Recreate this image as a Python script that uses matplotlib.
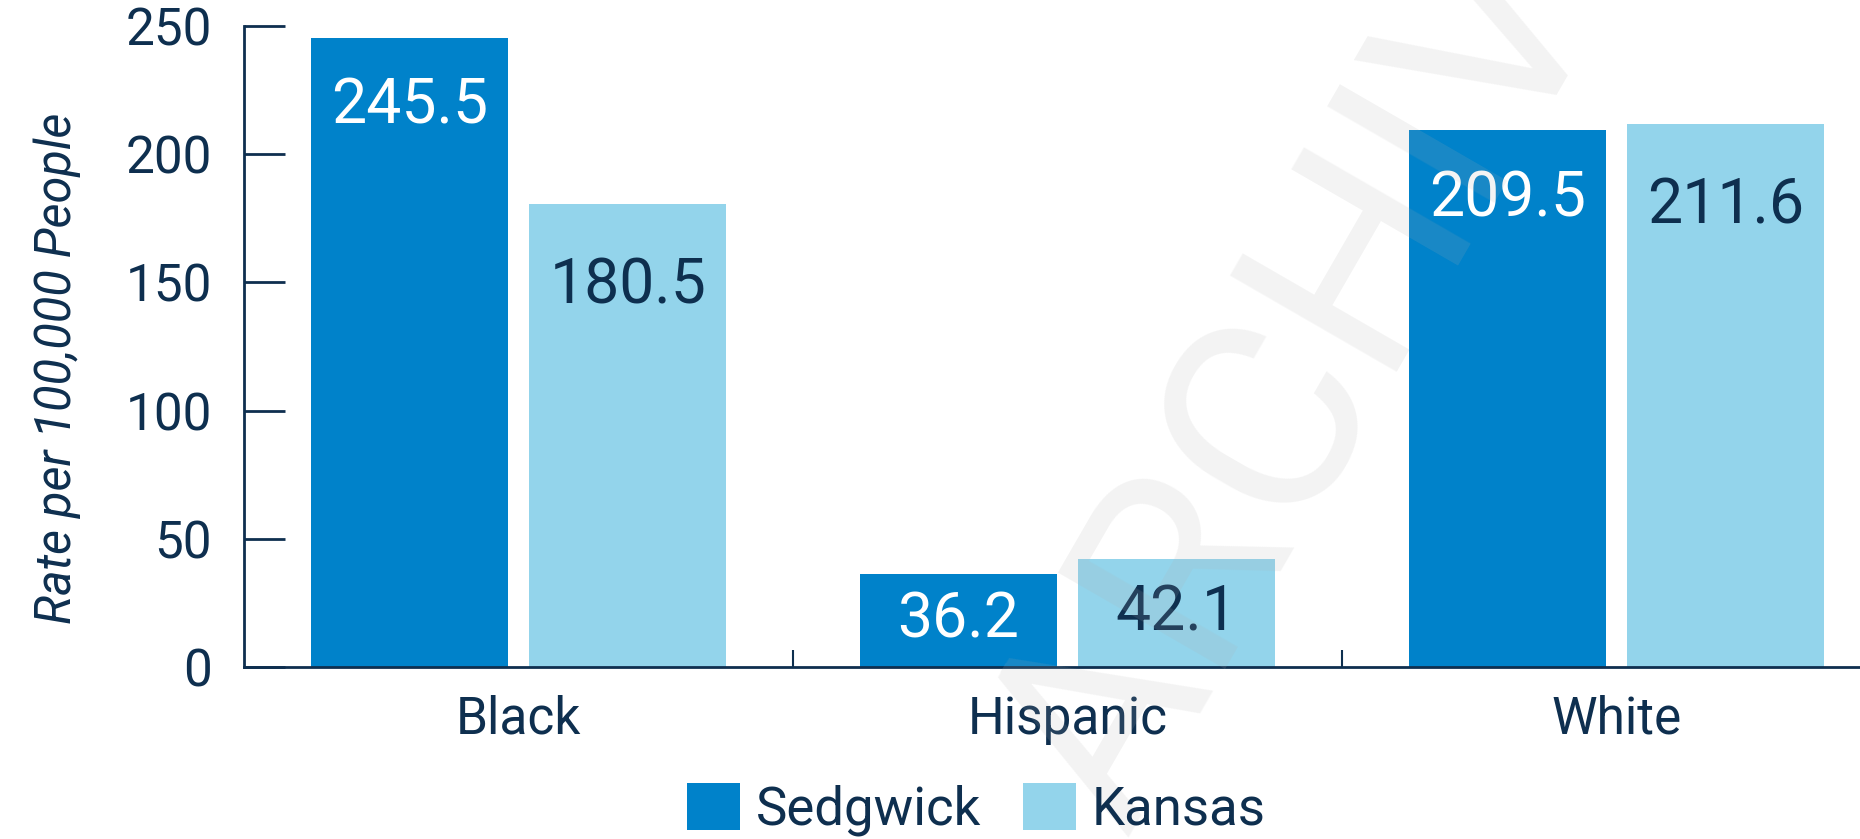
import numpy as np
import matplotlib
matplotlib.use("Agg")
import matplotlib.pyplot as plt

# chart data
groups = ["Black", "Hispanic", "White"]
sedgwick = [245.5, 36.2, 209.5]
kansas = [180.5, 42.1, 211.6]
y_ticks = [0, 50, 100, 150, 200, 250]

navy = "#0E2F4F"
c_sedg = "#0082CA"
c_kans = "#93D4EB"

plt.rcParams["font.family"] = ["Roboto", "DejaVu Sans"]

fig = plt.figure(figsize=(18.6, 8.39), dpi=100)
ax = fig.add_axes([0.1312, 0.2050, 0.8855, 0.7640])

x = np.arange(len(groups))
w = 0.3585
off = 0.199
b1 = ax.bar(x - off, sedgwick, w, color=c_sedg, label="Sedgwick", zorder=2)
b2 = ax.bar(x + off, kansas, w, color=c_kans, label="Kansas", zorder=2)

# value labels inside the bars
for xi, v in zip(x - off, sedgwick):
    y = v / 2 if v < 60 else v - 27
    ax.text(xi, y, f"{v:.1f}", ha="center", va="center", color="white", fontsize=45, zorder=3)
for xi, v in zip(x + off, kansas):
    y = v / 2 if v < 60 else v - 32
    ax.text(xi, y, f"{v:.1f}", ha="center", va="center", color=navy, fontsize=45, zorder=3)

ax.set_xlim(-0.5, 2.5)
ax.set_ylim(0, 250)
ax.set_yticks(y_ticks)
ax.set_xticks(x)
ax.set_xticklabels(groups)
ax.set_xticks([0.5, 1.5, 2.5], minor=True)

ax.tick_params(axis="y", direction="in", length=29.5, width=2, color=navy,
               labelcolor=navy, labelsize=37, pad=23)
ax.tick_params(axis="x", which="major", length=0, labelcolor=navy, labelsize=37, pad=20)
ax.tick_params(axis="x", which="minor", direction="in", length=12, width=1.5, color=navy)

for s in ["top", "right"]:
    ax.spines[s].set_visible(False)
for s in ["left", "bottom"]:
    ax.spines[s].set_color(navy)
    ax.spines[s].set_linewidth(2)

ax.set_ylabel("Rate per 100,000 People", fontsize=35, style="italic", color=navy, va="center")
ax.yaxis.set_label_coords(-0.1135, 0.466)

leg = fig.legend(handles=[b1, b2], loc="center", bbox_to_anchor=(0.525, 0.035), ncol=2,
                 frameon=False, fontsize=38, handlelength=1.0, handleheight=1.0,
                 handletextpad=0.3, columnspacing=0.8)
for t in leg.get_texts():
    t.set_color(navy)

# faint watermark
fig.text(0.7435, 0.712, "ARCHIVED", rotation=60, fontsize=195,
         color="#b0b0b0", alpha=0.15, ha="center", va="center", zorder=5)

fig.savefig("out.png", dpi=100)
